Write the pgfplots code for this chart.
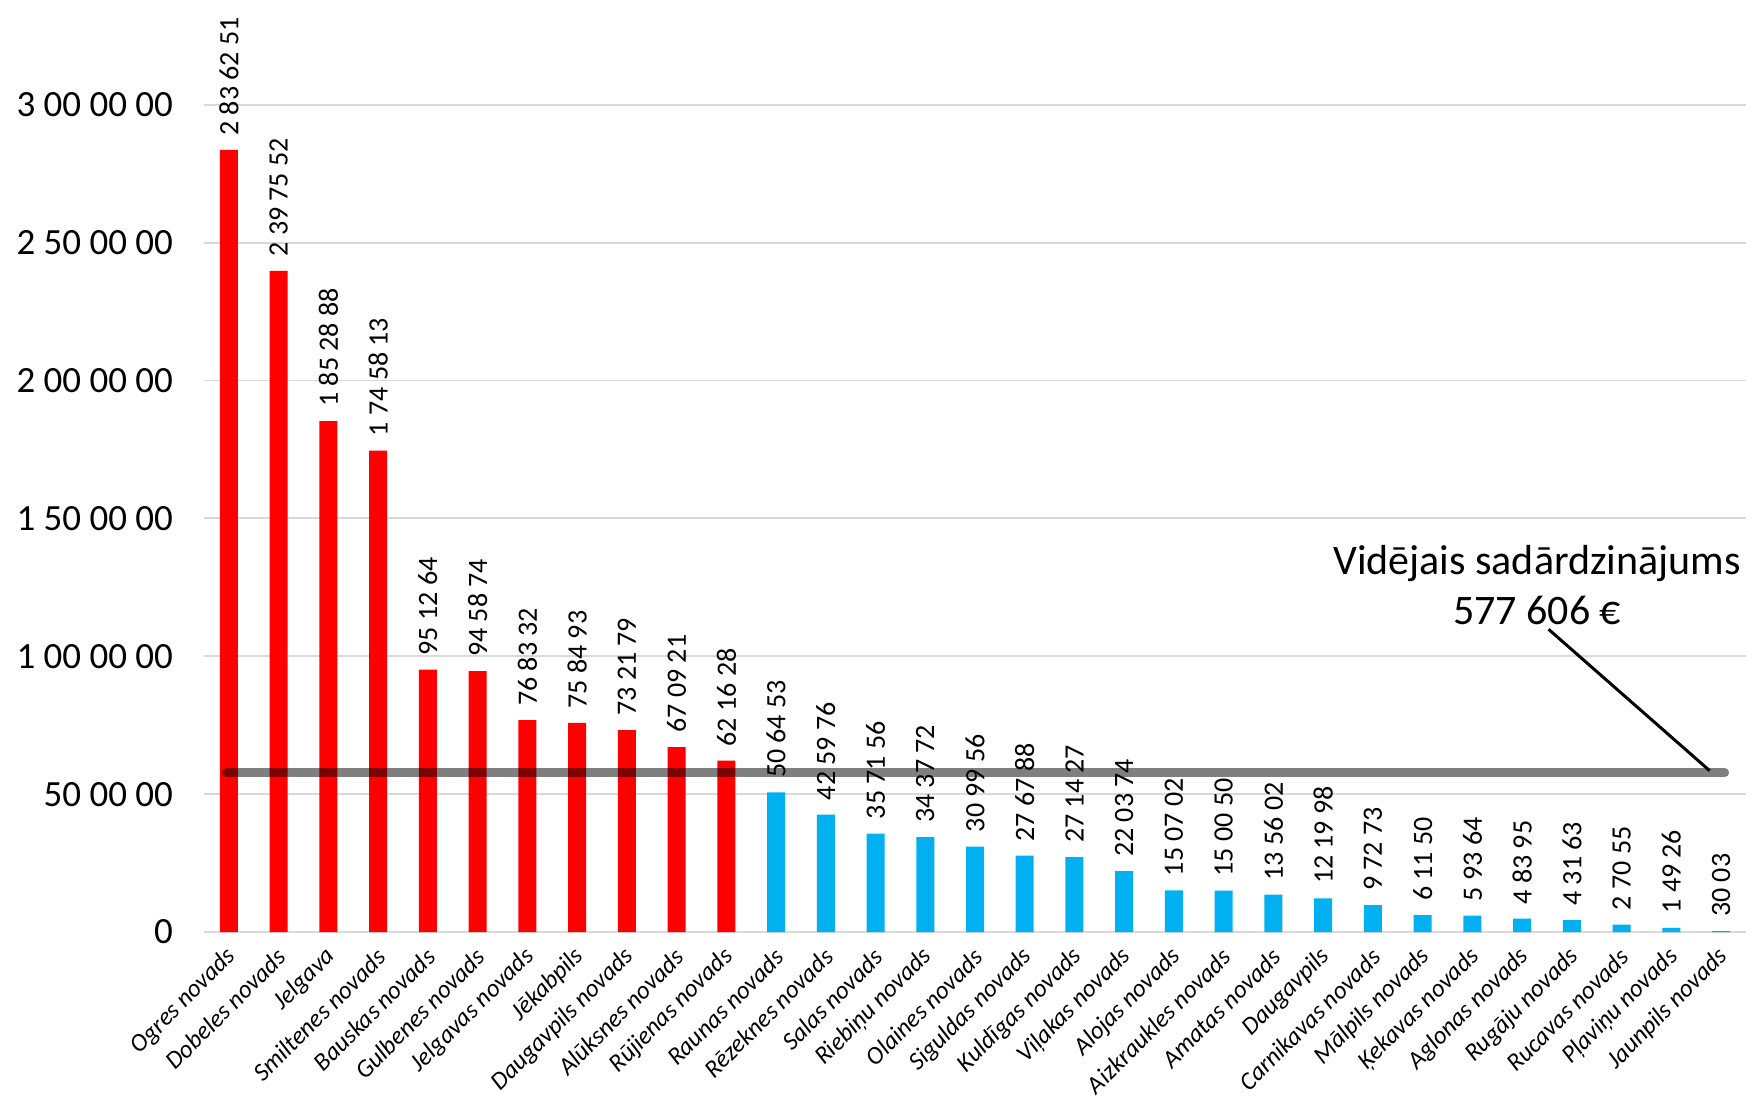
\documentclass[border=0pt]{standalone}
\usepackage{fontspec}
\setmainfont{Carlito}
\usepackage{pgfplots}
\pgfplotsset{compat=1.18}
\usepackage{pgfplotstable}
\definecolor{barred}{HTML}{FF0000}
\definecolor{barblue}{HTML}{00B0F0}
\definecolor{gridgray}{HTML}{D9D9D9}

\pgfplotstableread[col sep=comma, row sep=\\]{
x,y,label\\
0,2836251,2 83 62 51\\
1,2397552,2 39 75 52\\
2,1852888,1 85 28 88\\
3,1745813,1 74 58 13\\
4,951264,95 12 64\\
5,945874,94 58 74\\
6,768332,76 83 32\\
7,758493,75 84 93\\
8,732179,73 21 79\\
9,670921,67 09 21\\
10,621628,62 16 28\\
}\redtab

\pgfplotstableread[col sep=comma, row sep=\\]{
x,y,label\\
11,506453,50 64 53\\
12,425976,42 59 76\\
13,357156,35 71 56\\
14,343772,34 37 72\\
15,309956,30 99 56\\
16,276788,27 67 88\\
17,271427,27 14 27\\
18,220374,22 03 74\\
19,150702,15 07 02\\
20,150050,15 00 50\\
21,135602,13 56 02\\
22,121998,12 19 98\\
23,97273,9 72 73\\
24,61150,6 11 50\\
25,59364,5 93 64\\
26,48395,4 83 95\\
27,43163,4 31 63\\
28,27055,2 70 55\\
29,14926,1 49 26\\
30,3003,30 03\\
}\bluetab

\begin{document}
\begin{tikzpicture}
\begin{axis}[
  scale only axis, width=771bp, height=413.6bp,
  xmin=-0.5, xmax=30.5, ymin=0, ymax=3000000,
  scaled y ticks=false,
  bar width=9bp,
  clip=false,
  axis line style={draw=none},
  tick style={draw=none},
  ymajorgrids, grid style={gridgray, line width=0.9bp},
  ytick={0,500000,1000000,1500000,2000000,2500000,3000000},
  yticklabels={0,50 00 00,1 00 00 00,1 50 00 00,2 00 00 00,2 50 00 00,3 00 00 00},
  yticklabel style={font=\fontsize{18.5bp}{22bp}\selectfont, xshift=-12bp},
  xtick={0,1,...,30},
  xticklabels={Ogres novads,Dobeles novads,Jelgava,Smiltenes novads,Bauskas novads,Gulbenes novads,Jelgavas novads,Jēkabpils,Daugavpils novads,Alūksnes novads,Rūjienas novads,Raunas novads,Rēzeknes novads,Salas novads,Riebiņu novads,Olaines novads,Siguldas novads,Kuldīgas novads,Viļakas novads,Alojas novads,Aizkraukles novads,Amatas novads,Daugavpils,Carnikavas novads,Mālpils novads,Ķekavas novads,Aglonas novads,Rugāju novads,Rucavas novads,Pļaviņu novads,Jaunpils novads},
  xticklabel style={font=\itshape\fontsize{12.5bp}{15bp}\selectfont, yshift=-8bp, xshift=4bp, rotate=45, anchor=east},
]
\addplot[ybar, bar shift=0pt, fill=barred, draw=none,
  nodes near coords, point meta=explicit symbolic,
  every node near coord/.append style={rotate=90, anchor=west, font=\fontsize{14bp}{17bp}\selectfont, inner xsep=7bp, text=black}]
  table[x=x, y=y, meta=label] {\redtab};
\addplot[ybar, bar shift=0pt, fill=barblue, draw=none,
  nodes near coords, point meta=explicit symbolic,
  every node near coord/.append style={rotate=90, anchor=west, font=\fontsize{14bp}{17bp}\selectfont, inner xsep=7bp, text=black}]
  table[x=x, y=y, meta=label] {\bluetab};
\addplot[sharp plot, no markers, draw=black, draw opacity=0.5, line width=4.5bp, line cap=round]
  coordinates {(-0.05,577606) (30.07,577606)};
\draw[black, line width=1.5bp] (axis cs:26.53,1098000) -- (axis cs:29.77,585000);
\node[align=center, font=\fontsize{21bp}{25bp}\selectfont] at (axis cs:26.3,1258000) {Vidējais sadārdzinājums\\577 606 €};
\coordinate (bl) at (rel axis cs:0,0);
\coordinate (tr) at (rel axis cs:1,1);
\end{axis}
\pgfresetboundingbox
\path[use as bounding box] ([xshift=-102bp,yshift=-82bp]bl) rectangle ([yshift=52.4bp]tr);
\end{tikzpicture}
\end{document}
